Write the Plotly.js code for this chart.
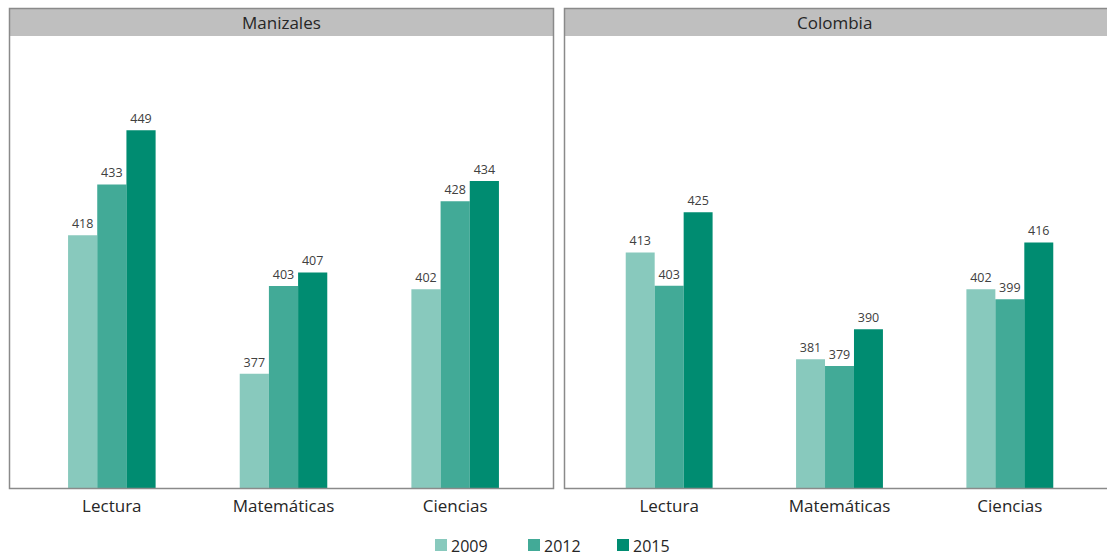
<!DOCTYPE html>
<html>
<head>
<meta charset="utf-8">
<script src="https://cdn.plot.ly/plotly-3.0.1.min.js"></script>
<style>
  html, body { margin: 0; padding: 0; background: #ffffff; }
  #chart { width: 1107px; height: 556px; }
</style>
</head>
<body>
<div id="chart"></div>
<script>
// Puntajes promedio por área y año
const areas = ["Lectura", "Matemáticas", "Ciencias"];
const years = ["2009", "2012", "2015"];
const colors = ["#88c9bd", "#42aa97", "#008c71"];
const panels = ["Manizales", "Colombia"];

const manizales2009 = [418, 377, 402];
const manizales2012 = [433, 403, 428];
const manizales2015 = [449, 407, 434];

const colombia2009 = [413, 381, 402];
const colombia2012 = [403, 379, 399];
const colombia2015 = [425, 390, 416];

const W = 1107, H = 556;
const fx = px => px / W;
const fy = py => (H - py) / H;

const font = "'Open Sans', 'Noto Sans', sans-serif";

const seriesByPanel = [
  [manizales2009, manizales2012, manizales2015],
  [colombia2009, colombia2012, colombia2015]
];

const traces = [];
seriesByPanel.forEach((series, p) => {
  series.forEach((vals, i) => {
    traces.push({
      type: "bar",
      x: areas,
      y: vals,
      name: years[i],
      xaxis: p === 0 ? "x" : "x2",
      yaxis: p === 0 ? "y" : "y2",
      marker: { color: colors[i], line: { width: 0 } },
      text: vals.map(String),
      textposition: "outside",
      textfont: { family: font, size: 12.5, color: "#404040" },
      cliponaxis: false,
      showlegend: false,
      hoverinfo: "x+y+name"
    });
  });
});

const hiddenY = {
  showticklabels: false, showgrid: false, zeroline: false, showline: false, ticks: ""
};
const catX = {
  type: "category",
  range: [-0.5, 2.5],
  showgrid: false, zeroline: false, showline: false,
  ticks: "", ticklabelstandoff: 5,
  tickfont: { family: font, size: 17, color: "#262626" }
};

// Panel frames and header strips
const shapes = [];
const annotations = [];
const frames = [
  { x0: 9.5, x1: 553.5, cx: 281, title: panels[0] },
  { x0: 564.5, x1: 1112, cx: 834, title: panels[1] }
];
frames.forEach(f => {
  shapes.push({
    type: "rect", xref: "paper", yref: "paper",
    x0: fx(f.x0), x1: fx(f.x1), y0: fy(36), y1: fy(8.5),
    fillcolor: "#bfbfbf", line: { width: 0 }, layer: "below"
  });
  shapes.push({
    type: "rect", xref: "paper", yref: "paper",
    x0: fx(f.x0), x1: fx(f.x1), y0: fy(488.5), y1: fy(8.5),
    fillcolor: "rgba(0,0,0,0)", line: { color: "#8a8a8a", width: 1.5 }, layer: "above"
  });
  annotations.push({
    xref: "paper", yref: "paper",
    x: fx(f.cx), y: fy(22.5),
    text: f.title, showarrow: false, xanchor: "center", yanchor: "middle",
    font: { family: font, size: 17, color: "#262626" }
  });
});

// Legend entries
const legendX = [435, 528, 617];
years.forEach((yr, i) => {
  shapes.push({
    type: "rect", xref: "paper", yref: "paper",
    x0: fx(legendX[i]), x1: fx(legendX[i] + 12), y0: fy(551), y1: fy(539),
    fillcolor: colors[i], line: { width: 0 }
  });
  annotations.push({
    xref: "paper", yref: "paper",
    x: fx(legendX[i] + 14), y: fy(546),
    text: yr, showarrow: false, xanchor: "left", yanchor: "middle",
    font: { family: font, size: 16, color: "#262626" }
  });
});

const layout = {
  width: W, height: H,
  margin: { l: 0, r: 0, t: 0, b: 0 },
  paper_bgcolor: "#ffffff", plot_bgcolor: "rgba(0,0,0,0)",
  font: { family: font },
  barmode: "group",
  bargap: 0.49,
  bargroupgap: 0,
  showlegend: false,
  xaxis: Object.assign({}, catX, { domain: [fx(26), fx(541)], anchor: "y" }),
  yaxis: Object.assign({}, hiddenY, { domain: [fy(488.5), fy(37)], range: [343.1, 476.6], anchor: "x" }),
  xaxis2: Object.assign({}, catX, { domain: [fx(584), fx(1095)], anchor: "y2" }),
  yaxis2: Object.assign({}, hiddenY, { domain: [fy(488.5), fy(37)], range: [342.3, 477.5], anchor: "x2" }),
  shapes: shapes,
  annotations: annotations
};

Plotly.newPlot("chart", traces, layout, { displayModeBar: false, staticPlot: true });
</script>
</body>
</html>
